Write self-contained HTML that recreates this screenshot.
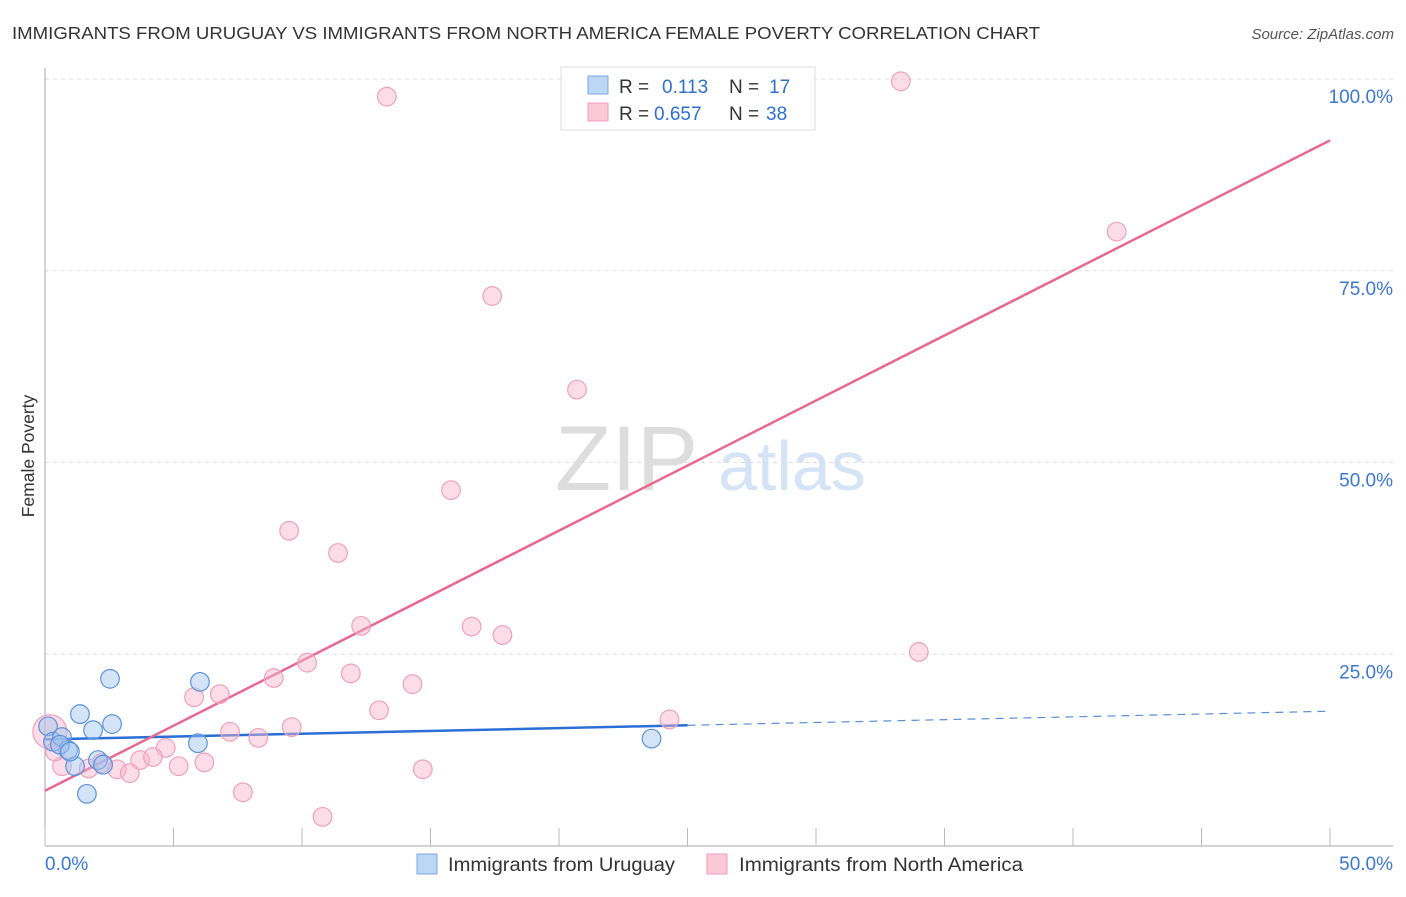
<!DOCTYPE html>
<html><head><meta charset="utf-8"><style>
body{margin:0;background:#fff;font-family:"Liberation Sans",sans-serif;}
svg text{font-family:"Liberation Sans",sans-serif;}
</style></head><body>
<svg id="chart" width="1406" height="892">
<text x="12" y="39" font-size="17.5" fill="#333" textLength="1028" lengthAdjust="spacingAndGlyphs">IMMIGRANTS FROM URUGUAY VS IMMIGRANTS FROM NORTH AMERICA FEMALE POVERTY CORRELATION CHART</text>
<text x="1394" y="39" font-size="15" fill="#555" font-style="italic" text-anchor="end">Source: ZipAtlas.com</text>
<text x="34" y="456" font-size="17.5" fill="#333" text-anchor="middle" transform="rotate(-90 34 456)">Female Poverty</text>
<g><text x="555" y="490" font-size="92" fill="#ddd" font-family="Liberation Serif">ZIP</text><text x="718" y="490" font-size="70" fill="#d4e3f5">atlas</text></g>
<g id="grid"></g><g id="axes"></g><g id="lines"></g><g id="pts"></g>
<g>
<rect x="561" y="67" width="254" height="63" fill="#fff" stroke="#ddd"/>
<rect x="588" y="76" width="20" height="18" fill="#bcd6f6" stroke="#7aa8e0"/>
<rect x="588" y="103" width="20" height="18" fill="#fbc8d7" stroke="#f09ab5"/>
<text x="619" y="93" font-size="19" fill="#333">R = <tspan fill="#2e6fd0" x="662">0.113</tspan><tspan x="729" fill="#333">N = </tspan><tspan fill="#2e6fd0" x="769">17</tspan></text>
<text x="619" y="120" font-size="19" fill="#333">R = <tspan fill="#2e6fd0" x="654">0.657</tspan><tspan x="729" fill="#333">N = </tspan><tspan fill="#2e6fd0" x="766">38</tspan></text>
</g>
<g>
<rect x="417" y="854" width="20" height="20" fill="#bcd6f6" stroke="#7aa8e0"/>
<text x="448" y="871" font-size="19" fill="#333" textLength="227" lengthAdjust="spacingAndGlyphs">Immigrants from Uruguay</text>
<rect x="707" y="854" width="20" height="20" fill="#fbc8d7" stroke="#f09ab5"/>
<text x="739" y="871" font-size="19" fill="#333" textLength="284" lengthAdjust="spacingAndGlyphs">Immigrants from North America</text>
</g>
</svg>
<script>
const yTicks=[25,50,75,100];
const yTickLabels=["25.0%","50.0%","75.0%","100.0%"];
const xTickLabels=["0.0%","50.0%"];
const blueX=[0.12,0.31,0.66,0.9,1.36,1.87,2.53,2.61,2.06,1.63,1.17,5.95,6.03,23.6,0.58,0.97,2.26];
const blueY=[15.6,13.6,14.2,12.5,17.2,15.1,21.8,15.9,11.2,6.8,10.4,13.4,21.4,14.0,13.2,12.3,10.6];
const pinkX=[0.19,13.3,33.3,41.7,17.4,20.7,15.8,9.5,11.4,12.3,16.6,17.8,34.0,10.2,8.9,11.9,5.8,6.8,14.3,13.0,24.3,9.6,7.2,8.3,4.7,3.7,4.2,5.2,6.2,2.8,3.3,2.2,1.7,0.66,14.7,7.7,10.8,0.39];
const pinkY=[14.9,97.7,99.7,80.1,71.7,59.5,46.4,41.1,38.2,28.7,28.6,27.5,25.3,23.9,21.9,22.5,19.4,19.8,21.1,17.7,16.5,15.5,14.9,14.1,12.8,11.2,11.6,10.4,10.9,10.0,9.5,10.8,10.1,10.4,10.0,7.0,3.8,12.3];
const blueTrend=[13.9,0.0735]; // intercept, slope
const pinkTrend=[7.2,1.696];
const NS="http://www.w3.org/2000/svg";
const X=v=>45+v*25.7, Y=v=>846-v*7.67;
function mk(t,a,p){const e=document.createElementNS(NS,t);for(const k in a)e.setAttribute(k,a[k]);p.appendChild(e);return e;}
const grid=document.getElementById('grid'),axes=document.getElementById('axes'),lines=document.getElementById('lines'),pts=document.getElementById('pts');
yTicks.forEach((t,i)=>{
 const l=mk('line',{x1:45,x2:1393,y1:Y(t),y2:Y(t),stroke:'#ddd','stroke-dasharray':'4,4'},grid);
 
 
 const tx=mk('text',{x:1393,y:Y(t)+24,'font-size':19,fill:'#3a78d4','text-anchor':'end'},axes);tx.textContent=yTickLabels[i];
 
 
});
const ya=mk('line',{x1:45,x2:45,y1:68,y2:846,stroke:'#aaa'},axes);


const xa=mk('line',{x1:45,x2:1393,y1:846,y2:846,stroke:'#aaa'},axes);


for(let i=0;i<=10;i++){const tk=mk('line',{x1:X(i*5),x2:X(i*5),y1:828,y2:846,stroke:'#bbb'},axes);
 
 }
[[0,'start',45],[50,'end',1393]].forEach((d,i)=>{const t=mk('text',{x:d[2],y:870,'font-size':19,fill:'#3a78d4','text-anchor':d[1]},axes);t.textContent=xTickLabels[i];
 
 });
function dots(xs,ys,fill,stroke,name){xs.forEach((x,i)=>{const c=mk('circle',{cx:X(x),cy:Y(ys[i]),r:(name==='pink-point'&&i===0)?17:9.3,fill:fill,stroke:stroke,'stroke-width':1.2},pts);
 
 });}
dots(pinkX,pinkY,'rgba(248,180,202,0.45)','#f0a0ba','pink-point');
dots(blueX,blueY,'rgba(160,196,240,0.45)','#5b93db','blue-point');
const bMax=Math.max(...blueX)+1.4;
const b1=mk('line',{x1:X(0),y1:Y(blueTrend[0]),x2:X(bMax),y2:Y(blueTrend[0]+blueTrend[1]*bMax),stroke:'#2a6fd6','stroke-width':2.5},lines);


const b2=mk('line',{x1:X(bMax),y1:Y(blueTrend[0]+blueTrend[1]*bMax),x2:X(50),y2:Y(blueTrend[0]+blueTrend[1]*50),stroke:'#5a8fd8','stroke-width':1.2,'stroke-dasharray':'8,6'},lines);


const p1=mk('line',{x1:X(0),y1:Y(pinkTrend[0]),x2:X(50),y2:Y(pinkTrend[0]+pinkTrend[1]*50),stroke:'#e8688f','stroke-width':2.5},lines);


</script>
</body></html>
